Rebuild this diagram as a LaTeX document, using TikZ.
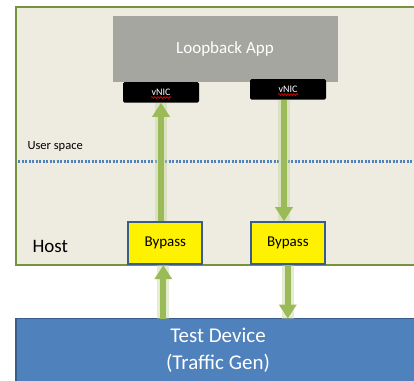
\documentclass[tikz,border=0pt]{standalone}
\usepackage{fontspec}
\setmainfont{Carlito}
\usetikzlibrary{arrows.meta,decorations.pathmorphing}
\definecolor{hostfill}{RGB}{238,236,225}
\definecolor{hostline}{RGB}{119,147,60}
\definecolor{appgray}{RGB}{166,166,160}
\definecolor{flowgreen}{RGB}{155,187,89}
\definecolor{glowgreen}{RGB}{195,214,155}
\definecolor{devblue}{RGB}{79,129,189}
\definecolor{edgeblue}{RGB}{56,93,138}
\begin{document}
\begin{tikzpicture}[x=1pt,y=-1pt,
  nic/.style={fill=black,rounded corners=1.5pt,minimum width=76pt,minimum height=20.5pt,inner sep=0pt,text=white,font=\fontsize{10}{12}\selectfont},
  bypassbox/.style={draw=edgeblue,line width=2pt,fill=yellow,minimum width=74pt,minimum height=42pt,inner sep=0pt,font=\fontsize{15}{18}\selectfont},
  flow/.style={draw=flowgreen,line width=6pt,-{Triangle[width=17pt,length=14pt]},preaction={draw=glowgreen,line width=12pt,opacity=0.45,arrows=-}},
  spell/.style={draw=red,line width=0.6pt,decorate,decoration={snake,amplitude=0.9pt,segment length=3pt}}]
\useasboundingbox (0,0) rectangle (414,380);
\node[draw=hostline,line width=2pt,fill=hostfill,anchor=north west,outer sep=0pt,minimum width=420pt,minimum height=258pt] (host) at (16.3,7) {};
\node[fill=appgray,minimum width=225pt,minimum height=65.5pt,text=white,font=\fontsize{17}{20}\selectfont] (app) at (225,49) {Loopback App};
\node[nic] (nic1) at (161,92.3) {vNIC};
\node[nic] (nic2) at (288,89.3) {vNIC};
\draw[spell] ([xshift=-10pt,yshift=-2pt]nic1.base) -- ([xshift=10pt,yshift=-2pt]nic1.base);
\draw[spell] ([xshift=-10pt,yshift=-2pt]nic2.base) -- ([xshift=10pt,yshift=-2pt]nic2.base);
\node[anchor=base west,font=\fontsize{12.5}{15}\selectfont] (user) at (24,149.5) {User space};
\draw[devblue,line width=2.2pt,dash pattern=on 2.2pt off 1.3pt] (18,161.5) -- (414,161.5);
\node[anchor=base west,font=\fontsize{19}{22}\selectfont] (hostlabel) at (29,252) {Host};
\node[bypassbox] (byp1) at (165.3,243.2) {Bypass};
\node[bypassbox] (byp2) at (287.8,243.2) {Bypass};
\node[draw=edgeblue,line width=1.5pt,fill=devblue,anchor=north west,outer sep=0pt,minimum width=404pt,minimum height=64pt,text=white,align=center,font=\fontsize{21}{27}\selectfont] (dev) at (16,318.5) {Test Device\\(Traffic Gen)};
\draw[flow] (nic1.south |- byp1.north) -- (nic1.south);
\draw[flow] ([xshift=-4pt]nic2.south) -- ([xshift=-4pt]nic2.south |- byp2.north);
\draw[flow] ([xshift=-2pt]byp1.south |- dev.north) -- ([xshift=-2pt]byp1.south);
\draw[flow] (byp2.south) -- (byp2.south |- dev.north);
\end{tikzpicture}
\end{document}
